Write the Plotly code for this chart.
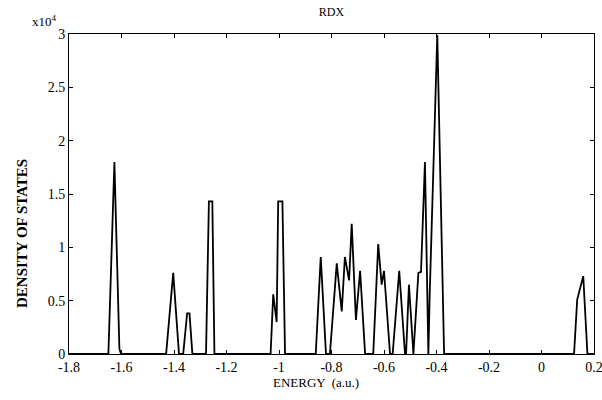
import plotly.graph_objects as go

# Energy (a.u.) and density of states (x10^4)
energy = [-1.80, -1.650, -1.627, -1.608, -1.602,
          -1.430, -1.403, -1.381,
          -1.365, -1.350, -1.341, -1.330,
          -1.278, -1.267, -1.254, -1.246,
          -1.032, -1.022, -1.009, -1.003, -0.987, -0.977,
          -0.860, -0.841, -0.821, -0.806, -0.780, -0.761, -0.749, -0.733,
          -0.723, -0.707, -0.691, -0.672,
          -0.641, -0.622, -0.609, -0.600, -0.577,
          -0.567, -0.542, -0.520, -0.516, -0.505, -0.488,
          -0.469, -0.459, -0.444, -0.431, -0.426, -0.397, -0.371,
          0.124, 0.136, 0.159, 0.175, 0.20]
dos = [0, 0, 1.80, 0.05, 0,
       0, 0.76, 0,
       0, 0.38, 0.38, 0,
       0, 1.43, 1.43, 0,
       0, 0.56, 0.30, 1.43, 1.43, 0,
       0, 0.91, 0, 0, 0.85, 0.40, 0.91, 0.69,
       1.22, 0.32, 0.78, 0,
       0, 1.03, 0.65, 0.78, 0,
       0, 0.78, 0, 0, 0.65, 0,
       0.76, 0.77, 1.80, 0, 0.55, 2.99, 0,
       0, 0.51, 0.73, 0, 0]

x_ticks = [-1.8, -1.6, -1.4, -1.2, -1.0, -0.8, -0.6, -0.4, -0.2, 0, 0.2]
x_tick_labels = ["-1.8", "-1.6", "-1.4", "-1.2", "-1", "-0.8", "-0.6", "-0.4", "-0.2", "0", "0.2"]
y_ticks = [0, 0.5, 1, 1.5, 2, 2.5, 3]
y_tick_labels = ["0", "0.5", "1", "1.5", "2", "2.5", "3"]

FONT = "Liberation Serif, Times New Roman, serif"
W, H = 602, 400
L, R, T, B = 69, 8, 34, 46
PW, PH = W - L - R, H - T - B

fig = go.Figure()
fig.add_trace(go.Scatter(x=energy, y=dos, mode="lines",
                         line=dict(color="black", width=1.8),
                         showlegend=False, cliponaxis=True, hoverinfo="skip"))

fig.update_layout(
    width=W, height=H,
    margin=dict(l=L, r=R, t=T, b=B, autoexpand=False),
    paper_bgcolor="white", plot_bgcolor="white",
    font=dict(family=FONT, size=14, color="black"),
    title=dict(text="RDX", x=(331.5 / W), xanchor="center", y=1 - 12 / H, yanchor="middle",
               font=dict(family=FONT, size=12, color="black"), automargin=False),
)
fig.update_xaxes(range=[-1.8, 0.2], tickvals=x_ticks, ticktext=x_tick_labels, automargin=False,
                 showgrid=False, zeroline=False, showline=True, linecolor="black", linewidth=1,
                 mirror="ticks", ticks="inside", ticklen=4, tickcolor="black",
                 ticklabeloverflow="allow", tickfont=dict(family=FONT, size=14))
fig.update_yaxes(range=[0, 3], tickvals=y_ticks, ticktext=y_tick_labels, automargin=False,
                 showgrid=False, zeroline=False, showline=True, linecolor="black", linewidth=1,
                 mirror="ticks", ticks="inside", ticklen=4, tickcolor="black",
                 ticklabeloverflow="allow", tickfont=dict(family=FONT, size=14))

# x-axis title
fig.add_annotation(text="ENERGY  (a.u.)", xref="paper", yref="paper",
                   x=(316 - L) / PW, y=-(382 - (T + PH)) / PH, xanchor="center", yanchor="middle",
                   showarrow=False, font=dict(family=FONT, size=13, color="black"))
# y-axis title
fig.add_annotation(text="<b>DENSITY OF STATES</b>", xref="paper", yref="paper",
                   x=(22 - L) / PW, y=(T + PH - 234) / PH, xanchor="center", yanchor="middle",
                   textangle=-90, showarrow=False, font=dict(family=FONT, size=15, color="black"))
# exponent label
fig.add_annotation(text="x10<sup>4</sup>", xref="paper", yref="paper",
                   x=-0.075, y=1.0, xanchor="left", yanchor="bottom", yshift=3,
                   showarrow=False, font=dict(family=FONT, size=13, color="black"))

fig.write_html("out.html", config={"displayModeBar": False},
               post_script="document.body.style.margin='0px';")
